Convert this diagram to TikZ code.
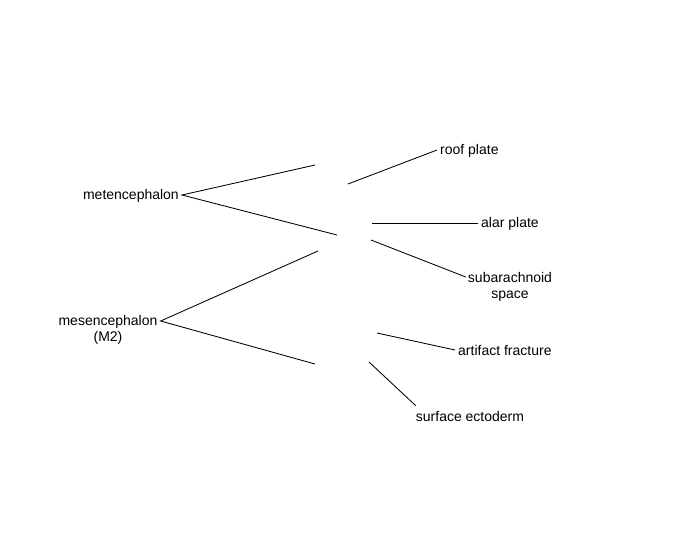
\documentclass[tikz,border=0pt]{standalone}
\usepackage{fontspec}
\setmainfont{Liberation Sans}
\begin{document}
\begin{tikzpicture}[x=1pt,y=-1pt,
  lbl/.style={inner sep=3pt,font=\fontsize{14}{16.5}\selectfont,align=center},
  conn/.style={draw=black,line width=0.85pt}]
\useasboundingbox (0,0) rectangle (675,550);
% labels
\node[lbl,anchor=east] (met) at (182,196) {metencephalon};
\node[lbl] (mes) at (108,330) {mesencephalon\\(M2)};
\node[lbl,anchor=west] (roof) at (437,151) {roof plate};
\node[lbl,anchor=west] (alar) at (478,224) {alar plate};
\node[lbl] (sub) at (510,287) {subarachnoid\\space};
\node[lbl,anchor=west] (art) at (455,350) {artifact fracture};
\node[lbl] (sur) at (470,416) {surface ectoderm};
% free ends
\coordinate (c1) at (315,165);
\coordinate (c2) at (337,235);
\coordinate (c3) at (318,251);
\coordinate (c4) at (315,364);
\coordinate (r1) at (348,184);
\coordinate (r2) at (372,223);
\coordinate (r3) at (371,240);
\coordinate (r4) at (377,333);
\coordinate (r5) at (369,362);
% connectors
\draw[conn] (c1) -- ([yshift=1pt]met.east) -- (c2);
\draw[conn] (c3) -- ([yshift=9pt]mes.east) -- (c4);
\draw[conn] ([yshift=1pt]roof.west) -- (r1);
\draw[conn] ([yshift=1pt]alar.west) -- (r2);
\draw[conn] ([xshift=1pt,yshift=10pt]sub.west) -- (r3);
\draw[conn] (art.west) -- (r4);
\draw[conn] ([xshift=3pt,yshift=2pt]sur.north west) -- (r5);
\end{tikzpicture}
\end{document}
